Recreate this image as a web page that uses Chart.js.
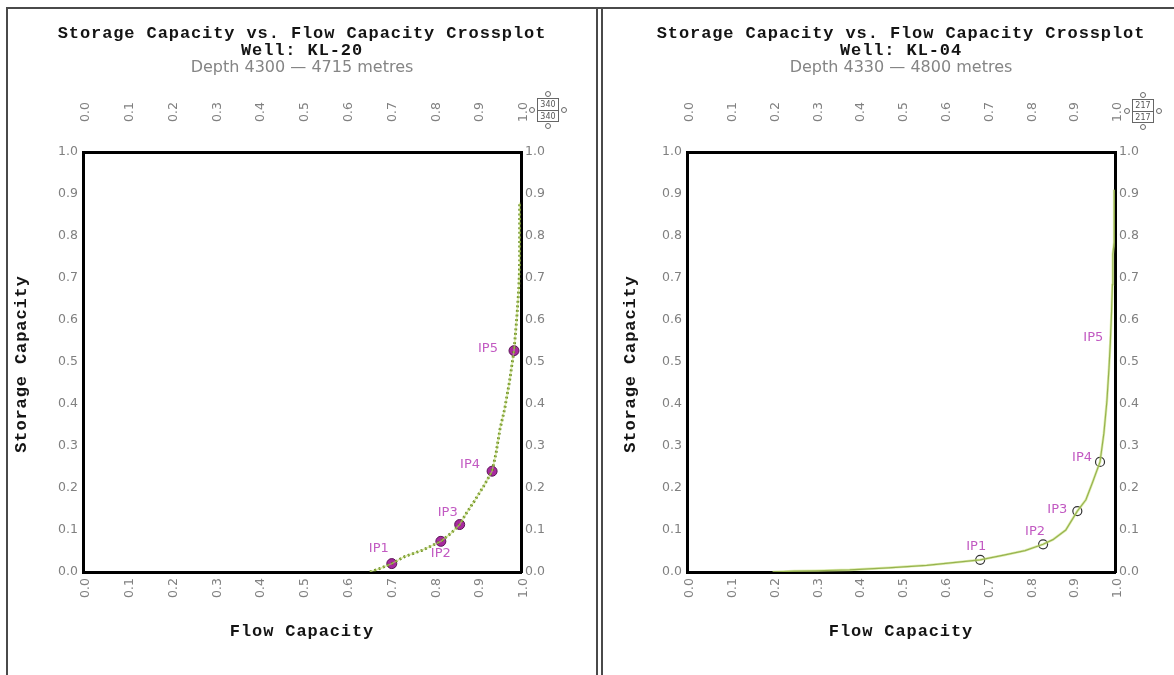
<!DOCTYPE html>
<html><head><meta charset="utf-8">
<script src="https://cdn.jsdelivr.net/npm/chart.js@4/dist/chart.umd.min.js"></script>
<style>
html,body{margin:0;padding:0;background:#fff;width:1174px;height:675px;overflow:hidden;position:relative}
.frame{position:absolute;background:#4a4a4a}
.panel{position:absolute;top:10px;height:665px}
canvas{display:block}
</style></head><body>
<div class="frame" style="left:6px;top:7px;width:1168px;height:2px"></div>
<div class="frame" style="left:6px;top:7px;width:2px;height:668px"></div>
<div class="frame" style="left:596px;top:7px;width:2px;height:668px"></div>
<div class="frame" style="left:601px;top:7px;width:2px;height:668px"></div>
<div class="panel" style="left:10px;width:585px"><canvas id="c1" width="585" height="665"></canvas></div>
<div class="panel" style="left:605px;width:569px"><canvas id="c2" width="569" height="665"></canvas></div>
<script>
// ---- data ----
const tickValues = [0,0.1,0.2,0.3,0.4,0.5,0.6,0.7,0.8,0.9,1.0];
const tickLabels = ['0.0','0.1','0.2','0.3','0.4','0.5','0.6','0.7','0.8','0.9','1.0'];
const ipNames = ['IP1','IP2','IP3','IP4','IP5'];

const titleMain = 'Storage Capacity vs. Flow Capacity Crossplot';
const wells = ['Well: KL-20','Well: KL-04'];
const depths = ['Depth 4300 \u2014 4715 metres','Depth 4330 \u2014 4800 metres'];
const iconCounts = ['340','217'];
const xTitle = 'Flow Capacity';
const yTitle = 'Storage Capacity';

// KL-20
const flowKL20 = [0.655,0.68,0.705,0.735,0.775,0.817,0.84,0.86,0.874,0.893,0.914,0.934,0.943,0.952,0.963,0.974,0.984,0.99,0.995,0.997,0.997,0.997];
const storKL20 = [0.0,0.009,0.02,0.037,0.052,0.073,0.092,0.113,0.138,0.168,0.203,0.24,0.283,0.34,0.39,0.455,0.527,0.6,0.675,0.74,0.8,0.88];
const ipFlowKL20 = [0.705,0.817,0.86,0.934,0.984];
const ipStorKL20 = [0.02,0.073,0.113,0.24,0.527];

// KL-04
const flowKL04 = [0.20,0.25,0.30,0.38,0.47,0.56,0.61,0.685,0.74,0.79,0.832,0.855,0.885,0.912,0.932,0.947,0.965,0.974,0.981,0.986,0.989,0.992,0.994,0.995,0.998,0.998,0.998];
const storKL04 = [0.0,0.002,0.003,0.005,0.01,0.016,0.021,0.029,0.04,0.051,0.066,0.077,0.1,0.145,0.172,0.212,0.262,0.33,0.406,0.486,0.545,0.62,0.684,0.757,0.785,0.855,0.91];
const ipFlowKL04 = [0.685,0.832,0.912,0.965,0.989];
const ipStorKL04 = [0.029,0.066,0.145,0.262,0.545];

// ---- helpers ----
const pts = (xs, ys) => xs.map((x,i)=>({x:x, y:ys[i]}));
const MONO = 'bold 17px "Liberation Mono"';
const SPACING = '0.9px';

const textPlugin = {
  id:'panelText',
  afterDraw(chart, args, o){
    const ctx = chart.ctx, ca = chart.chartArea;
    const cx = (ca.left + ca.right) / 2, cy = (ca.top + ca.bottom) / 2;
    ctx.save();
    ctx.textAlign = 'center'; ctx.textBaseline = 'middle';
    ctx.fillStyle = '#141414';
    ctx.font = MONO; ctx.letterSpacing = SPACING;
    ctx.fillText(titleMain, cx, 24);
    ctx.fillText(wells[o.k], cx, 41);
    ctx.fillText(xTitle, cx, 622);
    ctx.letterSpacing = '0px';
    ctx.font = '16px "DejaVu Sans"'; ctx.fillStyle = '#858585';
    ctx.fillText(depths[o.k], cx, 58);
    ctx.font = MONO; ctx.letterSpacing = SPACING; ctx.fillStyle = '#141414';
    ctx.translate(o.ytx, cy + 2); ctx.rotate(-Math.PI / 2);
    ctx.fillText(yTitle, 0, 0);
    ctx.restore();
  }
};

const ipPlugin = {
  id:'ipLabels',
  afterDatasetsDraw(chart, args, o){
    const ctx = chart.ctx, xs = chart.scales.x, ys = chart.scales.y;
    ctx.save();
    ctx.font = '13px "DejaVu Sans"';
    ctx.fillStyle = '#c25ac2';
    ctx.textAlign = 'center';
    ctx.textBaseline = 'middle';
    o.names.forEach((n,i)=>{
      const px = xs.getPixelForValue(o.xv[i]), py = ys.getPixelForValue(o.yv[i]);
      ctx.fillText(n, px + o.off[i][0], py + o.off[i][1]);
    });
    // small icon top-right
    const cx = chart.chartArea.right + o.icon[0], cy = chart.chartArea.top + o.icon[1];
    ctx.strokeStyle = '#666'; ctx.lineWidth = 1;
    ctx.strokeRect(cx-10.5, cy-11.5, 21, 23);
    ctx.beginPath(); ctx.moveTo(cx-10, cy+0.5); ctx.lineTo(cx+10, cy+0.5); ctx.stroke();
    [[-16,0],[16,0],[0,-16],[0,16]].forEach(([dx,dy])=>{
      ctx.beginPath(); ctx.arc(cx+dx, cy+dy, 2.5, 0, Math.PI*2); ctx.stroke();
    });
    ctx.fillStyle = '#555'; ctx.font = '8px "DejaVu Sans"';
    ctx.fillText(o.count, cx, cy-5.5);
    ctx.fillText(o.count, cx, cy+6.5);
    ctx.restore();
  }
};

function axis(pos, size, pad, lblOff){
  const horiz = pos==='top' || pos==='bottom';
  return {
    type:'linear', position:pos, min:0, max:1,
    grid:{display:false, drawTicks:false},
    border:{display:true, color:'#000', width:3},
    afterBuildTicks: s => { s.ticks = tickValues.map(v=>({value:v})); },
    afterFit: s => { if (horiz) s.height = size; else s.width = size; },
    ticks:{
      autoSkip:false, padding:pad, color:'#808080', labelOffset:lblOff || 0,
      font:{family:'"DejaVu Sans"', size:12.5},
      minRotation: horiz ? 90 : 0, maxRotation: horiz ? 90 : 0,
      callback:(v,i)=>tickLabels[i]
    },
    title:{display:false}
  };
}

function makeChart(id, k, flow, stor, ipF, ipS, lineStyle, ipStyle, dims, offs){
  const datasets = [];
  if (lineStyle.under) datasets.push({data:pts(flow,stor), showLine:true, borderColor:lineStyle.under, borderWidth:lineStyle.underW, pointRadius:0, xAxisID:'x', yAxisID:'y'});
  datasets.push({data:pts(flow,stor), showLine:true, borderColor:lineStyle.color, borderWidth:lineStyle.width, borderDash:lineStyle.dash, pointRadius:0, xAxisID:'x', yAxisID:'y'});
  datasets.push(Object.assign({data:pts(ipF,ipS), showLine:false, xAxisID:'x', yAxisID:'y'}, ipStyle));
  new Chart(document.getElementById(id), {
    type:'scatter',
    data:{datasets},
    options:{
      responsive:false, animation:false, devicePixelRatio:1,
      layout:{padding:{top:82, left:0, right:0, bottom:0}},
      plugins:{
        legend:{display:false}, tooltip:{enabled:false},
        title:{display:false}, subtitle:{display:false},
        ipLabels:{names:ipNames, xv:ipF, yv:ipS, off:offs, icon:dims.icon, count:iconCounts[k]},
        panelText:{k:k, ytx:dims.ytx}
      },
      scales:{
        x: axis('bottom', 103, 6, 3),
        x2: axis('top', 60, 30, 18),
        y: axis('left', dims.yw, 5),
        y2: axis('right', dims.y2w, 4)
      }
    },
    plugins:[ipPlugin, textPlugin]
  });
}

makeChart('c1', 0, flowKL20, storKL20, ipFlowKL20, ipStorKL20,
  {color:'#5c8016', width:2.7, dash:[2,2.6], under:'rgba(195,220,110,0.55)', underW:1.5},
  {pointRadius:5, pointBackgroundColor:'#a8299f', pointBorderColor:'#5c1457', pointBorderWidth:1},
  {yw:73, y2w:74, ytx:12, icon:[27,-42]},
  [[-13,-15],[0,12],[-12,-12],[-22,-7],[-26,-2]]);

makeChart('c2', 1, flowKL04, storKL04, ipFlowKL04, ipStorKL04,
  {color:'#4e6e12', width:1.2, dash:[], under:'rgba(200,225,120,0.6)', underW:2.6},
  {pointRadius:[4.5,4.5,4.5,4.5,0], pointBackgroundColor:'#ffffff', pointBorderColor:'#333', pointBorderWidth:1.2},
  {yw:82, y2w:59, ytx:26, icon:[28,-41]},
  [[-4,-13],[-8,-13],[-20,-1],[-18,-4],[-17,-5]]);
</script>
</body></html>
